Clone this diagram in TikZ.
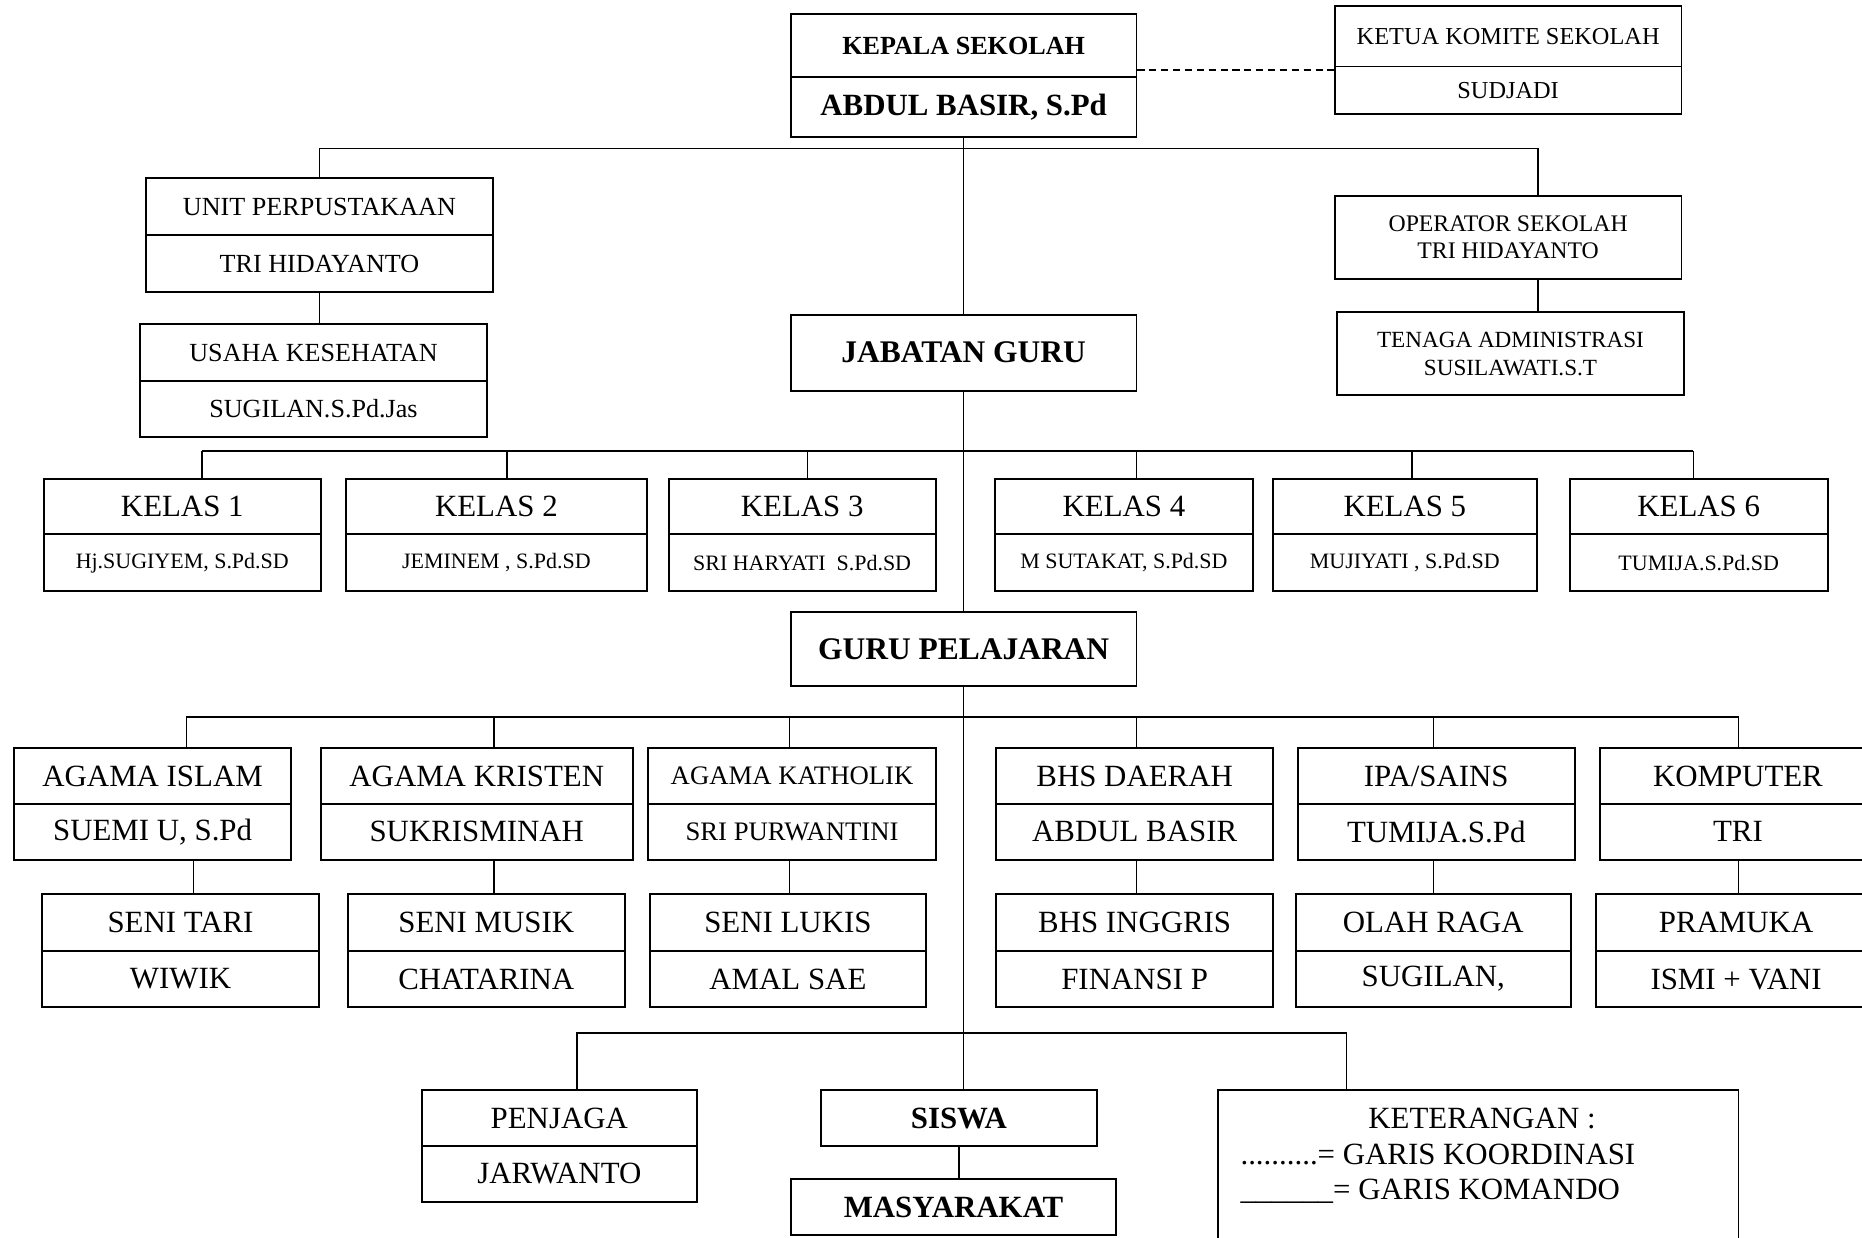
\documentclass[tikz,border=0pt]{standalone}
\usepackage{fontspec}
\setmainfont{Liberation Serif}
\newcommand{\fsz}[1]{\fontsize{#1}{#1}\selectfont}
\begin{document}
\begin{tikzpicture}[x=1pt, y=-1pt, line width=1.3pt,
        cell/.style={draw, rectangle, inner sep=0pt, line width=1.6pt},
        koord/.style={dashed, line width=1.6pt, dash pattern=on 6pt off 4pt}]
        \useasboundingbox (0,0) rectangle (1568,1042);
        % pimpinan
        \node[cell, font=\fsz{22}\bfseries, minimum width=291, minimum height=53] (kepala1) at (811.5,38.5) {KEPALA SEKOLAH};
        \node[cell, font=\fsz{26}\bfseries, minimum width=291, minimum height=50] (kepala2) at (811.5,90) {ABDUL BASIR, S.Pd};
        \node[cell, font=\fsz{20.5}, minimum width=292, minimum height=51] (komite1) at (1270,30.5) {KETUA KOMITE SEKOLAH};
        \node[cell, font=\fsz{20.5}, minimum width=292, minimum height=40] (komite2) at (1270,76) {SUDJADI};
        \draw[koord] ([yshift=5pt]kepala2.north east) -- ([yshift=5pt]kepala2.north east -| komite2.west);
        % staf
        \node[cell, font=\fsz{22}, minimum width=292, minimum height=48] (unit1) at (269,174) {UNIT PERPUSTAKAAN};
        \node[cell, font=\fsz{22}, minimum width=292, minimum height=48] (unit2) at (269,222) {TRI HIDAYANTO};
        \node[cell, font=\fsz{22}, minimum width=292, minimum height=48] (usaha1) at (264,297) {USAHA KESEHATAN};
        \node[cell, font=\fsz{22}, minimum width=292, minimum height=47] (usaha2) at (264,344.5) {SUGILAN.S.Pd.Jas};
        \node[cell, align=center, font=\fontsize{20}{23}\selectfont, minimum width=292, minimum height=70] (operator) at (1270,200) {OPERATOR SEKOLAH\\TRI HIDAYANTO};
        \node[cell, align=center, font=\fontsize{19.5}{23}\selectfont, minimum width=292, minimum height=70] (tenaga) at (1272,298) {TENAGA ADMINISTRASI\\SUSILAWATI.S.T};
        \coordinate (tb1) at (269,125);
        \coordinate (tb2) at (1295,125);
        \draw (unit1.north) -- (unit1.north |- tb1) -- (tb2) -- (tb2 |- operator.north);
        \draw (unit2.south) -- (unit2.south |- usaha1.north);
        \draw (tb2 |- operator.south) -- (tb2 |- tenaga.north);
        % guru
        \node[cell, font=\fsz{26.5}\bfseries, minimum width=291, minimum height=64] (jabatan) at (811.5,297) {JABATAN GURU};
        \node[cell, font=\fsz{26.5}\bfseries, minimum width=291, minimum height=63] (guru) at (811.5,546.5) {GURU PELAJARAN};
        \draw (kepala2.south) -- (jabatan.north);
        \draw (jabatan.south) -- (guru.north);
        \foreach \n/\xa/\xb/\xv/\nama in {1/37/270/170/{Hj.SUGIYEM, S.Pd.SD}, 2/291/545/427/{JEMINEM , S.Pd.SD},
                3/563/788/680/SRI HARYATI\ \ S.Pd.SD, 4/838/1055/957/{M SUTAKAT, S.Pd.SD},
                5/1072/1294/1189/{MUJIYATI , S.Pd.SD}, 6/1322/1539/1426/TUMIJA.S.Pd.SD}{
            \node[cell, font=\fsz{26}, minimum width={\xb-\xa}, minimum height=47] (kelas\n) at ({(\xa+\xb)/2},426.5) {KELAS \n};
            \node[cell, font=\fsz{18.5}, minimum width={\xb-\xa}, minimum height=48] (wali\n) at ({(\xa+\xb)/2},474) {\nama};
            \coordinate (kt\n) at (\xv,380);
            \draw (kt\n) -- (kt\n |- kelas\n.north);
        }
        \draw (kt1) -- (kt6);
        % mata pelajaran
        \foreach \n/\xa/\xb/\xv/\fz/\mapel/\nama in {1/12/245/157/26/AGAMA ISLAM/{SUEMI U, S.Pd},
                2/270/533/416/26/AGAMA KRISTEN/SUKRISMINAH, 3/546/788/665/22.5/AGAMA KATHOLIK/SRI PURWANTINI,
                4/839/1072/957/26/BHS DAERAH/ABDUL BASIR, 5/1093/1326/1207/26/{IPA/SAINS}/TUMIJA.S.Pd,
                6/1347/1580/1464/26/KOMPUTER/TRI}{
            \node[cell, font=\fsz{\fz}, minimum width={\xb-\xa}, minimum height=47] (mapel\n) at ({(\xa+\xb)/2},653.5) {\mapel};
            \node[cell, font=\fsz{\fz}, minimum width={\xb-\xa}, minimum height=47] (pengampu\n) at ({(\xa+\xb)/2},700.5) {\nama};
            \coordinate (mt\n) at (\xv,604);
            \draw (mt\n) -- (mt\n |- mapel\n.north);
        }
        \draw (mt1) -- (mt6);
        \foreach \n/\xa/\xb/\xv/\eks/\nama in {1/35/269/163/SENI TARI/WIWIK, 2/293/526/416/SENI MUSIK/CHATARINA,
                3/547/780/665/SENI LUKIS/AMAL SAE, 4/839/1072/957/BHS INGGRIS/FINANSI P,
                5/1091/1323/1207/OLAH RAGA/{SUGILAN,}, 6/1344/1580/1464/PRAMUKA/ISMI + VANI}{
            \node[cell, font=\fsz{26}, minimum width={\xb-\xa}, minimum height=48] (eks\n) at ({(\xa+\xb)/2},777) {\eks};
            \node[cell, font=\fsz{26}, minimum width={\xb-\xa}, minimum height=47] (pembina\n) at ({(\xa+\xb)/2},824.5) {\nama};
            \coordinate (ex\n) at (\xv,0);
            \draw (ex\n |- pengampu\n.south) -- (ex\n |- eks\n.north);
        }
        % bawah
        \node[cell, font=\fsz{26}, minimum width=232, minimum height=47] (penjaga1) at (471,941.5) {PENJAGA};
        \node[cell, font=\fsz{26}, minimum width=232, minimum height=47] (penjaga2) at (471,988.5) {JARWANTO};
        \node[cell, font=\fsz{26}\bfseries, minimum width=233, minimum height=47] (siswa) at (807.5,941.5) {SISWA};
        \node[cell, font=\fsz{26}\bfseries, minimum width=274, minimum height=47] (masyarakat) at (803,1016.5) {MASYARAKAT};
        \node[cell, minimum width=438, minimum height=152] (ket) at (1245,994) {};
        \node[font=\fsz{26}] (ket1) at (1248,942) {KETERANGAN :};
        \node[font=\fsz{26}, anchor=west, inner sep=0pt] (ket2) at (1044,972) {..........= GARIS KOORDINASI};
        \node[font=\fsz{26}, anchor=west, inner sep=0pt] (ket3) at (1044,1003) {\_\_\_\_\_\_= GARIS KOMANDO};
        \draw (guru.south) -- (guru.south |- siswa.north);
        \draw (siswa.south) -- (siswa.south |- masyarakat.north);
        \coordinate (bt1) at (486,870);
        \coordinate (bt2) at (1134,870);
        \draw (bt1 |- penjaga1.north) -- (bt1) -- (bt2) -- (bt2 |- ket.north);
    \end{tikzpicture}
\end{document}
